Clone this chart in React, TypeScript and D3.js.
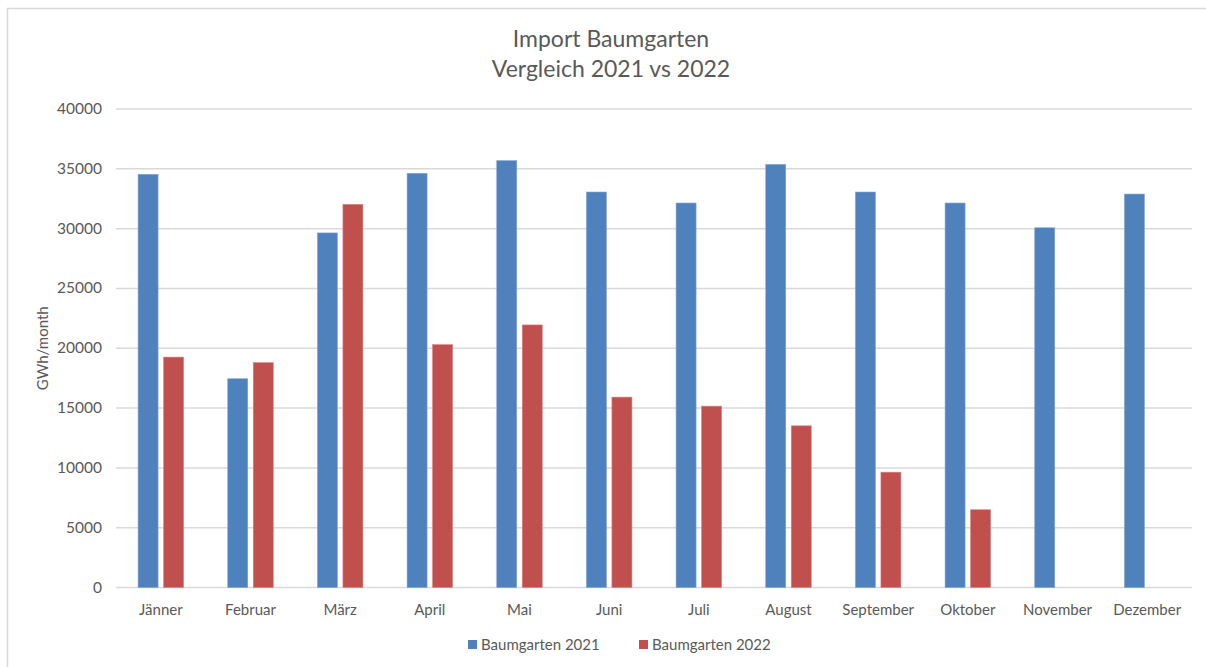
import React from "react";
import * as d3 from "d3";

const months = ["Jänner", "Februar", "März", "April", "Mai", "Juni", "Juli", "August", "September", "Oktober", "November", "Dezember"];
const values2021 = [34540, 17450, 29640, 34620, 35680, 33060, 32140, 35370, 33060, 32140, 30070, 32890];
const values2022: (number | null)[] = [19260, 18800, 32030, 20300, 21950, 15915, 15160, 13515, 9640, 6500, null, null];
const seriesNames = ["Baumgarten 2021", "Baumgarten 2022"];
const seriesColors = ["#4f81bd", "#c0504d"];
const yTicks = [0, 5000, 10000, 15000, 20000, 25000, 30000, 35000, 40000];
const titleLines = ["Import Baumgarten", "Vergleich 2021 vs 2022"];
const yAxisLabel = "GWh/month";

const W = 1206;
const H = 667;
const FONT = "Lato, 'Open Sans', sans-serif";
const TEXT = "#595959";

export default function App() {
  const left = 116, right = 1192, top = 109, bottom = 587.5;
  const x = d3.scaleBand<string>().domain(months).range([left, right]).paddingInner(0).paddingOuter(0);
  const y = d3.scaleLinear().domain([0, 40000]).range([bottom, top]);
  const barW = 20;
  const gap = 5.5;
  const series = [values2021, values2022];

  return (
    <svg width={W} height={H} style={{ position: "absolute", left: 0, top: 0, background: "#fff" }}>
      <rect x={7.5} y={8.5} width={1210} height={670} fill="#fff" stroke="#d9d9d9" strokeWidth={1.5} />
      {titleLines.map((t, i) => (
        <text key={t} x={611} y={47 + i * 30} textAnchor="middle" fontFamily={FONT} fontSize={23} fill={TEXT}>
          {t}
        </text>
      ))}
      {yTicks.map((v) => (
        <g key={v}>
          <line x1={left} x2={right} y1={y(v)} y2={y(v)} stroke="#d9d9d9" strokeWidth={1.5} />
          <text x={102} y={y(v) + 5} textAnchor="end" fontFamily={FONT} fontSize={15.5} fill={TEXT}>
            {v}
          </text>
        </g>
      ))}
      <text
        transform={`translate(48,${(top + bottom) / 2}) rotate(-90)`}
        textAnchor="middle"
        fontFamily={FONT}
        fontSize={15}
        fill={TEXT}
      >
        {yAxisLabel}
      </text>
      {months.map((m) => {
        const cx = (x(m) as number) + x.bandwidth() / 2;
        return (
          <g key={m}>
            {series.map((s, si) => {
              const v = s[months.indexOf(m)];
              if (v == null) return null;
              const bx = si === 0 ? cx - gap / 2 - barW : cx + gap / 2;
              return (
                <rect
                  key={si}
                  x={bx}
                  y={y(v)}
                  width={barW}
                  height={y(0) - y(v)}
                  fill={seriesColors[si]}
                  stroke={si === 0 ? "#7fa3d4" : "#d9827f"}
                  strokeWidth={0.6}
                />
              );
            })}
            <text x={cx} y={615} textAnchor="middle" fontFamily={FONT} fontSize={15} fill={TEXT}>
              {m}
            </text>
          </g>
        );
      })}
      {seriesNames.map((n, i) => {
        const lx = 468 + i * 171;
        return (
          <g key={n}>
            <rect x={lx} y={640} width={9} height={9} fill={seriesColors[i]} />
            <text x={lx + 13} y={650} fontFamily={FONT} fontSize={15} fill={TEXT}>
              {n}
            </text>
          </g>
        );
      })}
    </svg>
  );
}
